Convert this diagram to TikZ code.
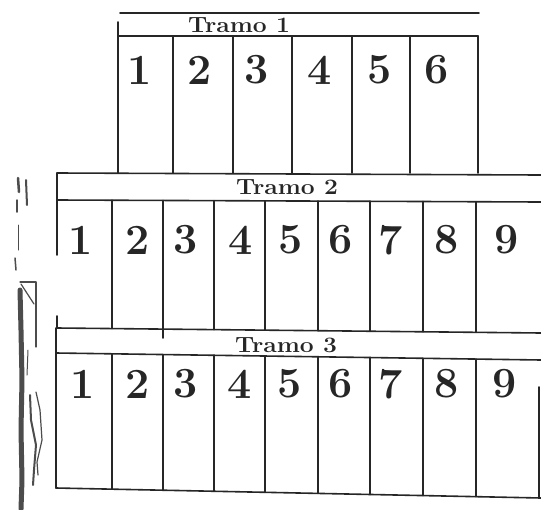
\documentclass[tikz,border=0pt]{standalone}
\usepackage{fontspec}
\setmainfont{Latin Modern Roman}
\begin{document}
\begin{tikzpicture}[x=1pt,y=-1pt,
  rule/.style={line width=1.6pt, draw=black!85, line cap=round},
  digit/.style={font=\fontsize{43}{43}\selectfont\bfseries, inner sep=0pt, text=black!85},
  title/.style={font=\fontsize{22}{22}\selectfont\bfseries, inner sep=0pt, text=black!85},
  smudge/.style={draw=black!70, line cap=round, line join=round}]
\useasboundingbox[fill=white] (0,0) rectangle (541,509);

% ---------- Tramo 1 ----------
\draw[rule] (120,13) -- (479,13);
\draw[rule] (118,22) -- (118,173);
\draw[rule] (118,36) -- (478,36);
\draw[rule] (478,36) -- (478,173);
\foreach \x in {173,233,292,352,410} \draw[rule] (\x,36) -- (\x,173);
\node[title] (t1) at (239,25) {\scalebox{1.12}[1]{Tramo 1}};
\foreach \d/\x in {1/140,2/200,3/257,4/320,5/380,6/437}
  \node[digit] (a\d) at (\x,70) {\d};

% ---------- Tramo 2 ----------
\draw[rule] (57,173) -- (541,175);
\draw[rule] (57,173) -- (57,255);
\draw[rule] (57,316) -- (57,328);
\draw[rule] (57,200) -- (541,202);
\foreach \x in {112,214,265,318,370,423,476} {
  \pgfmathsetmacro{\ya}{200+(\x-57)*2/484}
  \pgfmathsetmacro{\yb}{328+(\x-57)*5/484}
  \draw[rule] (\x,\ya) -- (\x,\yb);
}
\draw[rule] (163,200.5) -- (163,338);
\draw[rule] (57,328) -- (541,333);
\node[title] (t2) at (287,187) {\scalebox{1.12}[1]{Tramo 2}};
\foreach \d/\x in {1/81,2/138,3/186,4/241,5/291,6/341,7/391,8/447,9/507}
  \node[digit] (b\d) at (\x,240) {\d};

% ---------- Tramo 3 ----------
\draw[rule] (56,328) -- (56,488);
\draw[rule] (56,353) -- (541,360);
\foreach \x in {112,163,214,265,318,370,423,476} {
  \pgfmathsetmacro{\ya}{353+(\x-56)*7/485}
  \pgfmathsetmacro{\yb}{488+(\x-56)*10/485}
  \draw[rule] (\x,\ya) -- (\x,\yb);
}
\draw[rule] (539,387) -- (539,498);
\draw[rule] (56,488) -- (541,498);
\node[title] (t3) at (286,345) {\scalebox{1.12}[1]{Tramo 3}};
\foreach \d/\x in {1/83,2/138,3/186,4/240,5/290,6/341,7/391,8/447,9/505}
  \node[digit] (c\d) at (\x,384) {\d};

% ---------- page edge marks ----------
\draw[smudge, line width=2.5pt] (18,178) -- (19,192);
\draw[smudge, line width=2pt] (26,180) -- (27,205);
\draw[smudge, line width=1.5pt] (17,200) -- (17,212);
\draw[smudge, line width=1pt] (18,225) -- (18,250);
\draw[smudge, line width=1.5pt] (15,258) -- (16,270);
\draw[smudge, line width=1.2pt] (20,282) -- (36,282) -- (36,347);
\draw[smudge, line width=1.2pt] (21,284) -- (34,304);
\draw[smudge, line width=5pt] (20,290) -- (21,330) -- (22,380) -- (21,430) -- (22,480) -- (21,509);
\draw[smudge, line width=2pt] (30,395) -- (31,420) -- (36,445) -- (34,470) -- (33,485);
\draw[smudge, line width=1.2pt] (36,392) -- (40,410) -- (42,440) -- (37,462) -- (38,475);
\draw[smudge, line width=1pt] (28,350) -- (27,375);
\end{tikzpicture}
\end{document}
